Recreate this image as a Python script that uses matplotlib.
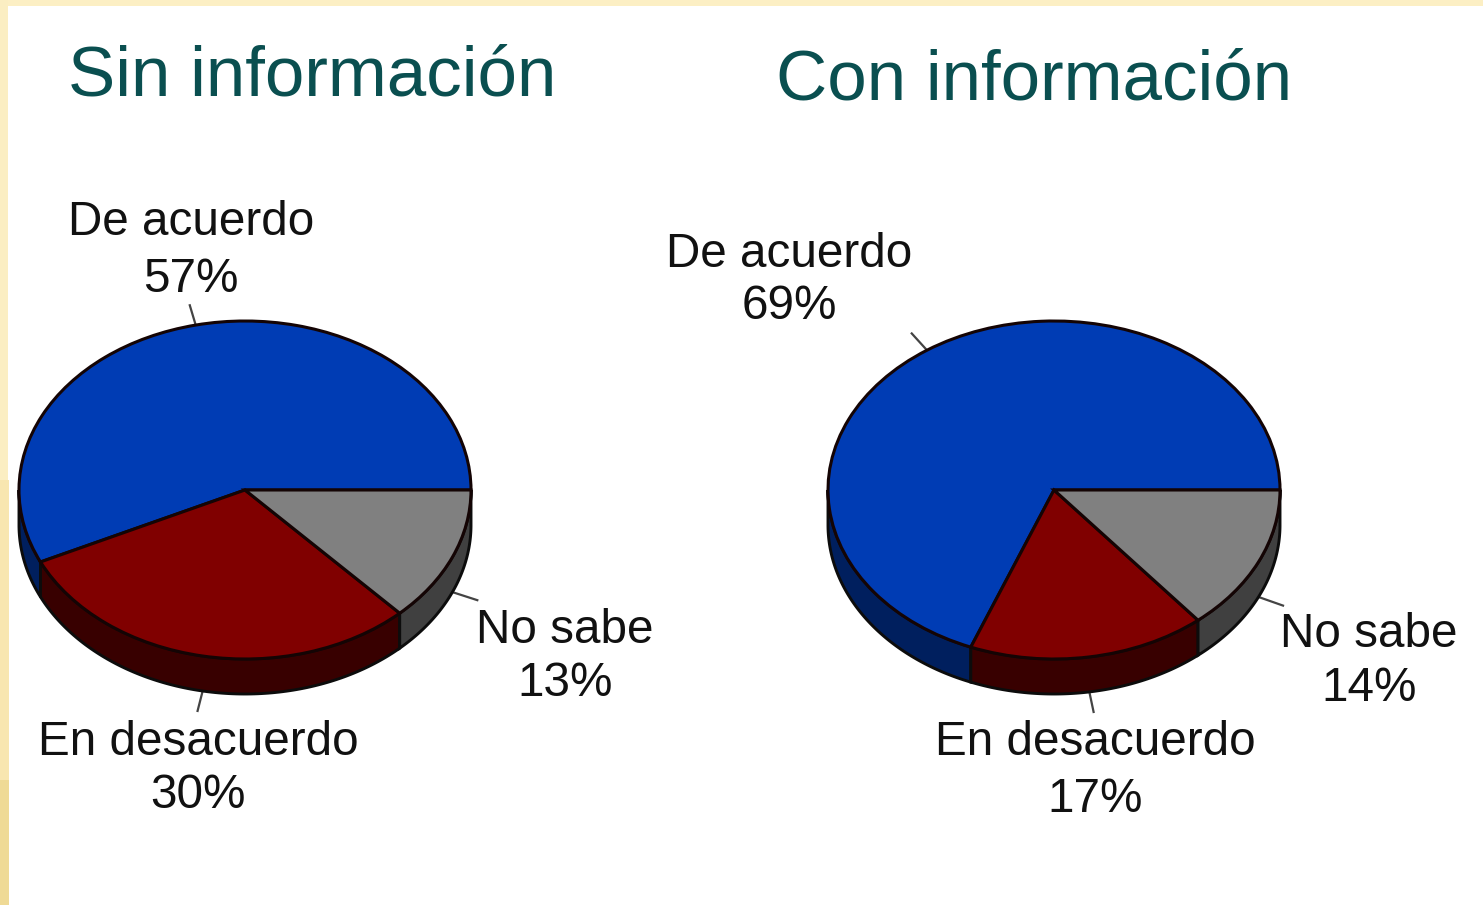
import numpy as np
import matplotlib
matplotlib.use('Agg')
import matplotlib.pyplot as plt
from matplotlib.patches import Rectangle

plt.rcParams['font.family'] = ['Liberation Sans', 'DejaVu Sans']

categories = ['De acuerdo', 'En desacuerdo', 'No sabe']
sin_info = [57, 30, 13]
con_info = [69, 17, 14]

top_colors = ['#003CB4', '#800000', '#808080']
wall_colors = ['#001F5E', '#380000', '#404040']

W, H = 1483, 905
RX, RY = 226, 169
DEPTH = 35 / RY  # wall height in pie units


def draw_pie(cx, cy, values):
    ax = fig.add_axes([(cx - RX) / W, 1 - (cy + RY) / H, 2 * RX / W, 2 * RY / H])

    # side wall goes first, only the front half of the pie shows it
    edges = np.cumsum([0] + values) * 360 / sum(values)
    for i in range(len(values)):
        a0, a1 = max(edges[i], 180), edges[i + 1]
        if a1 <= a0:
            continue
        t = np.radians(np.linspace(a0, a1, 120))
        xs = np.r_[np.cos(t), np.cos(t)[::-1]]
        ys = np.r_[np.sin(t), np.sin(t)[::-1] - DEPTH]
        ax.fill(xs, ys, facecolor=wall_colors[i], edgecolor='#0c0c0c', lw=2.1,
                clip_on=False, zorder=1)

    wedges, _ = ax.pie(values, colors=top_colors, startangle=0, counterclock=True,
                       wedgeprops=dict(edgecolor='#140404', linewidth=2.2))
    for w in wedges:
        w.set_clip_on(False)
        w.set_zorder(2)

    ax.set_aspect('auto')
    ax.set_xlim(-1, 1)
    ax.set_ylim(-1, 1)
    ax.axis('off')

    # leader lines from the rim, at the middle of each slice
    mids = np.radians((edges[:-1] + edges[1:]) / 2)
    for m in mids:
        drop = DEPTH if np.sin(m) < 0 else 0
        ax.plot([np.cos(m), 1.12 * np.cos(m)],
                [np.sin(m) - drop, 1.12 * np.sin(m) - drop],
                color='#444444', lw=1.6, clip_on=False, zorder=0)
    return ax


fig = plt.figure(figsize=(W / 100, H / 100), dpi=100, facecolor='white')

# page coordinates for the border and the texts
page = fig.add_axes([0, 0, 1, 1])
page.set_xlim(0, W)
page.set_ylim(H, 0)
page.axis('off')

# cream slide border
page.add_patch(Rectangle((0, 0), W, 6, color='#FCEFC4', lw=0))
page.add_patch(Rectangle((0, 0), 8, 480, color='#FBEEC2', lw=0))
page.add_patch(Rectangle((0, 480), 9, 300, color='#F8E6B0', lw=0))
page.add_patch(Rectangle((0, 780), 9, 125, color='#EFDA96', lw=0))

draw_pie(245, 490, sin_info)
draw_pie(1054, 490, con_info)

TEAL = '#0A4F50'
page.text(312, 95, 'Sin información', fontsize=51, color=TEAL, ha='center', va='baseline')
page.text(1034, 99, 'Con información', fontsize=51, color=TEAL, ha='center', va='baseline')


def label(x, y_name, y_val, name, val):
    page.text(x, y_name, name, fontsize=34.3, color='#111111', ha='center', va='baseline')
    page.text(x, y_val, f'{val}%', fontsize=34.3, color='#111111', ha='center', va='baseline')


label(191, 235, 292, categories[0], sin_info[0])
label(198, 755, 808, categories[1], sin_info[1])
label(565, 643, 696, categories[2], sin_info[2])
label(789, 267, 319, categories[0], con_info[0])
label(1095, 755, 812, categories[1], con_info[1])
label(1369, 647, 701, categories[2], con_info[2])

fig.savefig('out.png', dpi=100, facecolor='white')
